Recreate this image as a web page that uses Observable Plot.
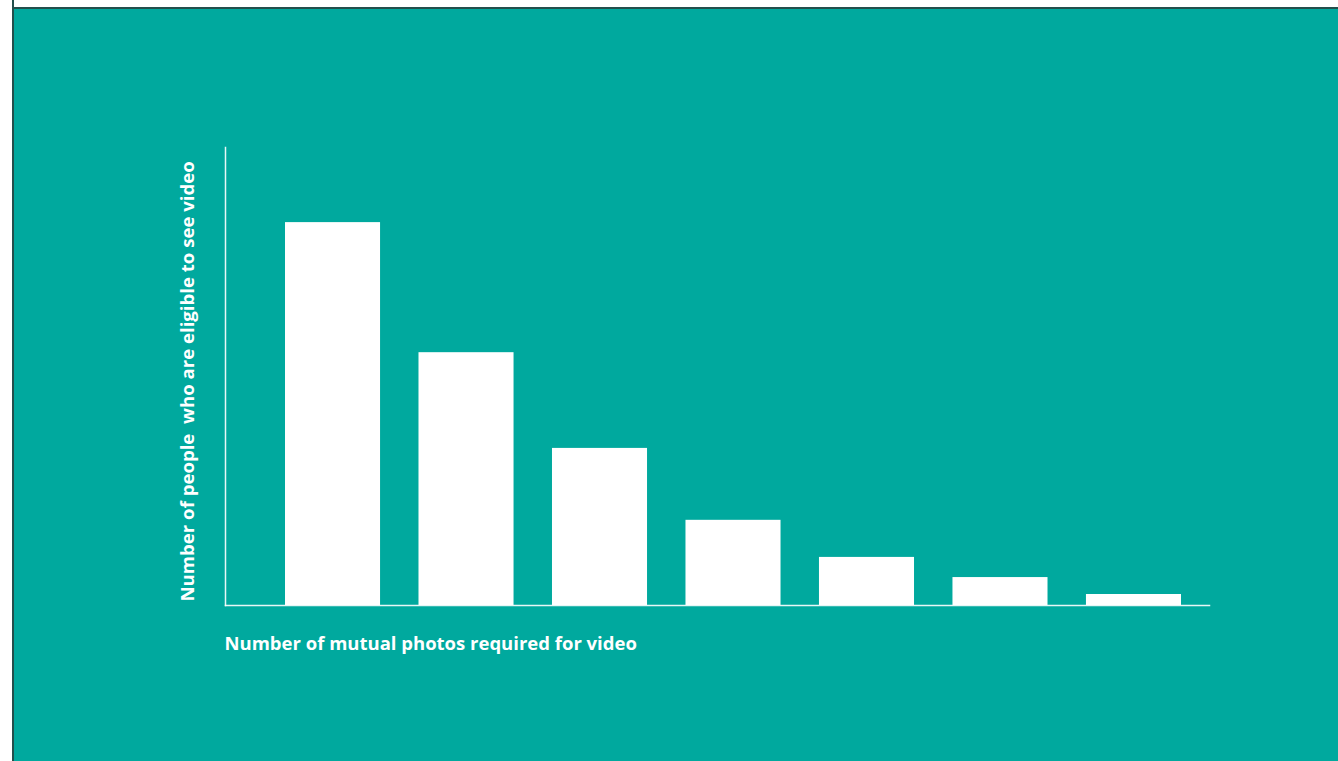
<!DOCTYPE html>
<html>
<head>
<meta charset="utf-8">
<script src="https://cdn.jsdelivr.net/npm/d3@7"></script>
<script src="https://cdn.jsdelivr.net/npm/@observablehq/plot@0.6"></script>
<style>
  html, body { margin: 0; padding: 0; background: #ffffff; }
  #wrap { position: relative; width: 1338px; height: 761px; overflow: hidden; }
  #chart svg { display: block; }
  .strip-left { position: absolute; left: 0; top: 0; width: 12px; height: 761px; background: #ffffff; border-right: 2px solid #234f4c; box-sizing: content-box; }
  .strip-top { position: absolute; left: 0; top: 0; width: 1338px; height: 7px; background: #ffffff; border-bottom: 2px solid #234f4c; }
</style>
</head>
<body>
<div id="wrap">
  <div id="chart"></div>
  <div class="strip-top"></div>
  <div class="strip-left"></div>
</div>
<script>
// Categories (number of mutual photos, unlabeled in the original) and relative eligibility values
const categories = ["1", "2", "3", "4", "5", "6", "7"];
const values = [83.6, 55.2, 34.3, 18.6, 10.5, 6.1, 2.4];
const yLabel = "Number of people  who are eligible to see video";
const xLabel = "Number of mutual photos required for video";

const teal = "#00a99e";
const data = categories.map((c, i) => ({category: c, value: values[i]}));

const chart = Plot.plot({
  width: 1338,
  height: 761,
  marginLeft: 225,
  marginRight: 129,
  marginTop: 147,
  marginBottom: 156,
  style: {background: teal, fontFamily: "'Open Sans', sans-serif"},
  x: {domain: categories, range: [285, 1181], paddingInner: 0.288, paddingOuter: 0, round: false, axis: null},
  y: {domain: [0, 100], axis: null},
  marks: [
    Plot.barY(data, {x: "category", y: "value", fill: "#ffffff"}),
    Plot.frame({anchor: "left", stroke: "#ffffff", strokeWidth: 1.5, strokeOpacity: 0.9}),
    Plot.frame({anchor: "bottom", stroke: "#ffffff", strokeWidth: 1.5, strokeOpacity: 0.9}),
    Plot.text([yLabel], {
      text: d => d, frameAnchor: "bottom-left", rotate: -90, textAnchor: "start",
      dx: -32, dy: -4, fill: "#ffffff", fontSize: 18.6, fontWeight: "bold"
    }),
    Plot.text([xLabel], {
      text: d => d, frameAnchor: "bottom-left", textAnchor: "start",
      dx: -1, dy: 44, fill: "#ffffff", fontSize: 18.5, fontWeight: "bold"
    })
  ]
});
document.getElementById("chart").appendChild(chart);
</script>
</body>
</html>
